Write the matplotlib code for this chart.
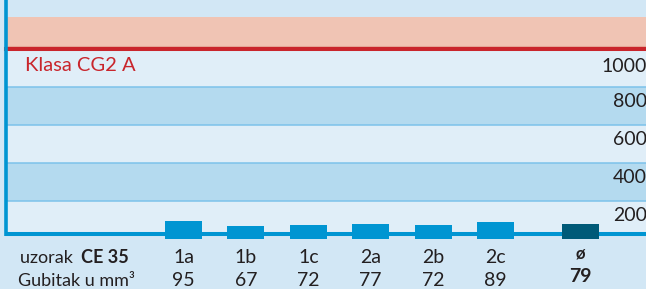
import matplotlib.pyplot as plt
import numpy as np
from matplotlib.transforms import blended_transform_factory

# data
samples = ["1a", "1b", "1c", "2a", "2b", "2c"]
loss = [95, 67, 72, 77, 72, 89]          # Gubitak u mm3
avg_label = "ø"
avg_loss = 79
grid_values = [200, 400, 600, 800, 1000]
class_name = "Klasa CG2 A"
class_limit = 1000
row1_title = "uzorak "
row1_bold = "CE 35"
row2_title = "Gubitak u mm³"

# colours
c_top = "#d2e7f5"
c_light = "#e0eef8"
c_dark = "#b4daef"
c_grid = "#7cc2ea"
c_salmon = "#f0c4b4"
c_red = "#c9252c"
c_blue = "#0095d2"
c_avg = "#005a78"
c_text = "#231f20"

plt.rcParams['font.family'] = ['Lato', 'DejaVu Sans']

fig = plt.figure(figsize=(6.46, 2.89), dpi=100, facecolor=c_top)
ax = fig.add_axes([0, 0, 1, 1])
ax.set_facecolor(c_top)
ax.set_xlim(-2.94, 7.41)
ax.set_ylim(-265, 1256)
ax.axis("off")

x = np.arange(len(samples))
x_avg = x[-1] + 1.36
x_left = -2.845
base = 24
xfrac = 6 / 646.0

# bands between the grid lines
edges = [base] + grid_values
for i in range(len(edges) - 1):
    col = c_light if i % 2 == 0 else c_dark
    ax.axhspan(edges[i], edges[i + 1], xmin=xfrac, xmax=1, color=col, lw=0, zorder=0)
for v in grid_values[:-1]:
    ax.axhline(v, xmin=xfrac, xmax=1, color=c_grid, lw=1.1, zorder=1)

# class band above the limit
ax.axhspan(class_limit, 1165, xmin=xfrac, xmax=1, color=c_salmon, lw=0, zorder=0)
ax.axhline(class_limit + 12, xmin=xfrac, xmax=1, color="#e6a898", lw=0.8, zorder=1)
ax.axhline(class_limit, xmin=xfrac, xmax=1, color=c_red, lw=2.9, zorder=2)
ax.text(-2.54, class_limit - 90, class_name, color=c_red, fontsize=14.5,
        ha="left", va="center")

# frame lines
ax.plot([x_left, x_left], [base - 8, 1256], color=c_blue, lw=2.6,
        solid_capstyle="butt", zorder=3)
ax.plot([x_left - 0.02, 7.41], [base, base], color=c_blue, lw=2.9,
        solid_capstyle="butt", zorder=3)

# bars
ax.bar(x, loss, width=0.593, color=c_blue, lw=0, zorder=4)
ax.bar([x_avg], [avg_loss], width=0.593, color=c_avg, lw=0, zorder=4)

# value labels on the right
trans = blended_transform_factory(ax.transAxes, ax.transData)
for v in grid_values:
    off = 92 if v == class_limit else 80
    ax.text(1.001, v - off, str(v), transform=trans, ha="right", va="center",
            fontsize=14, color=c_text)

# table under the chart
ax.text(-2.62, -128, row1_title, fontsize=13, color=c_text, ha="left", va="baseline")
ax.text(-1.643, -128, row1_bold, fontsize=13, color=c_text, ha="left", va="baseline",
        fontweight="bold")
ax.text(-2.65, -250, row2_title, fontsize=13, color=c_text, ha="left", va="baseline")
for xi, s, val in zip(x, samples, loss):
    ax.text(xi, -128, s, fontsize=14, color=c_text, ha="center", va="baseline")
    ax.text(xi, -250, str(val), fontsize=14, color=c_text, ha="center", va="baseline")
ax.text(x_avg, -102, avg_label, fontsize=12, color=c_text, ha="center",
        va="baseline", fontweight="bold")
ax.text(x_avg, -228, str(avg_loss), fontsize=14, color=c_text, ha="center",
        va="baseline", fontweight="bold")

fig.savefig("out.png", dpi=100, facecolor=c_top)
